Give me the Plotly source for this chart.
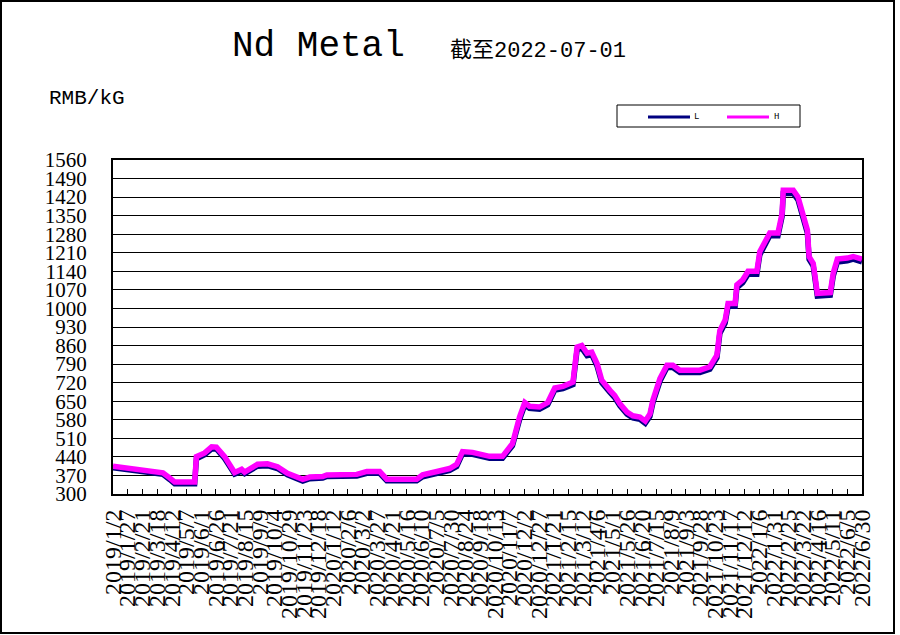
import datetime as dt
import plotly.graph_objects as go

# ---------------- data ----------------
DATES = [
    "2019-01-02", "2019-02-08", "2019-03-14", "2019-03-28", "2019-04-09", "2019-04-17", "2019-05-21", "2019-05-24", "2019-06-07", "2019-06-19",
    "2019-06-27", "2019-07-11", "2019-07-28", "2019-08-09", "2019-08-14", "2019-08-26", "2019-09-05", "2019-09-22", "2019-09-29", "2019-10-09",
    "2019-10-26", "2019-11-12", "2019-11-21", "2019-12-03", "2019-12-25", "2020-01-01", "2020-02-21", "2020-03-09", "2020-03-31", "2020-04-12",
    "2020-06-02", "2020-06-12", "2020-07-06", "2020-07-28", "2020-08-09", "2020-08-19", "2020-09-05", "2020-09-22", "2020-10-04", "2020-10-26",
    "2020-11-12", "2020-11-24", "2020-12-03", "2020-12-11", "2020-12-28", "2021-01-11", "2021-01-23", "2021-02-06", "2021-02-23", "2021-03-02",
    "2021-03-10", "2021-03-19", "2021-03-27", "2021-04-05", "2021-04-13", "2021-04-27", "2021-05-05", "2021-05-14", "2021-05-26", "2021-06-05",
    "2021-06-17", "2021-06-26", "2021-07-04", "2021-07-09", "2021-07-21", "2021-08-02", "2021-08-12", "2021-08-24", "2021-09-10", "2021-09-27",
    "2021-10-14", "2021-10-26", "2021-10-31", "2021-11-09", "2021-11-14", "2021-11-26", "2021-11-29", "2021-12-09", "2021-12-18", "2022-01-02",
    "2022-01-07", "2022-01-16", "2022-01-24", "2022-02-07", "2022-02-14", "2022-02-16", "2022-03-05", "2022-03-13", "2022-03-22", "2022-03-29",
    "2022-04-01", "2022-04-08", "2022-04-15", "2022-05-07", "2022-05-12", "2022-05-19", "2022-06-05", "2022-06-15", "2022-06-30",
]

H_VALUES = [
    405, 395, 385, 380, 360, 345, 345, 441, 455, 478,
    477, 441, 381, 393, 383, 397, 412, 414, 410, 403,
    378, 362, 355, 364, 366, 372, 374, 385, 385, 356,
    356, 372, 385, 396, 412, 460, 457, 447, 442, 442,
    490, 590, 645, 631, 628, 645, 700, 706, 722, 854,
    860, 831, 835, 792, 729, 691, 672, 640, 609, 595,
    590, 575, 602, 654, 735, 786, 786, 767, 765, 767,
    780, 824, 917, 956, 1019, 1019, 1089, 1108, 1140, 1140,
    1214, 1258, 1285, 1285, 1359, 1446, 1446, 1421, 1359, 1296,
    1195, 1170, 1057, 1060, 1133, 1186, 1190, 1196, 1186,
]

L_VALUES = [
    399, 389, 379, 374, 354, 339, 339, 433, 448, 470,
    470, 434, 375, 386, 377, 390, 405, 407, 403, 396,
    372, 356, 349, 358, 360, 366, 368, 378, 378, 350,
    350, 365, 378, 389, 404, 452, 450, 440, 435, 435,
    482, 580, 636, 623, 620, 637, 692, 698, 713, 844,
    850, 822, 826, 783, 720, 683, 664, 632, 601, 587,
    582, 567, 593, 644, 725, 777, 777, 758, 756, 758,
    771, 814, 905, 945, 1008, 1008, 1078, 1097, 1129, 1129,
    1202, 1246, 1274, 1274, 1347, 1434, 1434, 1410, 1348, 1285,
    1185, 1160, 1047, 1050, 1122, 1175, 1180, 1186, 1176,
]

X_TICK_LABELS = [
    "2019/1/2", "2019/1/27", "2019/2/21", "2019/3/18", "2019/4/12", "2019/5/7", "2019/6/1", "2019/6/26",
    "2019/7/21", "2019/8/15", "2019/9/9", "2019/10/4", "2019/10/29", "2019/11/23", "2019/12/18",
    "2020/1/12", "2020/2/6", "2020/3/2", "2020/3/27", "2020/4/21", "2020/5/16", "2020/6/10", "2020/7/5",
    "2020/7/30", "2020/8/24", "2020/9/18", "2020/10/13", "2020/11/7", "2020/12/2", "2020/12/27",
    "2021/1/21", "2021/2/15", "2021/3/12", "2021/4/6", "2021/5/1", "2021/5/26", "2021/6/20", "2021/7/15",
    "2021/8/9", "2021/9/3", "2021/9/28", "2021/10/23", "2021/11/17", "2021/12/12", "2022/1/6",
    "2022/1/31", "2022/2/25", "2022/3/22", "2022/4/16", "2022/5/11", "2022/6/5", "2022/6/30",
]
X_TICK_VALS = [dt.datetime.strptime(s, "%Y/%m/%d").strftime("%Y-%m-%d") for s in X_TICK_LABELS]

Y_TICKS = [300, 370, 440, 510, 580, 650, 720, 790, 860, 930, 1000, 1070, 1140, 1210, 1280, 1350, 1420, 1490, 1560]

TITLE = "Nd Metal"
SUBTITLE = "截至2022-07-01"
UNIT = "RMB/kG"

# ---------------- layout geometry ----------------
W, H = 900, 635
ML, MR, MT, MB = 113, 38, 160, 141
PW, PH = W - ML - MR, H - MT - MB


def px(x):
    return (x - ML) / PW


def py(y):
    return (H - MB - y) / PH


SERIF = "Liberation Serif, Times New Roman, serif"
MONO = "Liberation Mono, Noto Sans CJK SC, monospace"

fig = go.Figure()
fig.add_trace(go.Scatter(x=DATES, y=L_VALUES, mode="lines", name="L",
                         line=dict(color="#000080", width=5.5), showlegend=False,
                         hoverinfo="skip"))
fig.add_trace(go.Scatter(x=DATES, y=H_VALUES, mode="lines", name="H",
                         line=dict(color="#FF00FF", width=5.5), showlegend=False,
                         hoverinfo="skip"))

fig.update_layout(
    width=W, height=H,
    margin=dict(l=ML, r=MR, t=MT, b=MB, pad=0),
    paper_bgcolor="white", plot_bgcolor="white",
    hovermode=False,
    xaxis=dict(
        type="date",
        range=[X_TICK_VALS[0], X_TICK_VALS[-1]],
        tickmode="array", tickvals=X_TICK_VALS, ticktext=X_TICK_LABELS,
        tickangle=-90,
        ticks="inside", ticklen=5, tickwidth=1, tickcolor="black",
        showgrid=False, zeroline=False,
        showline=True, linecolor="black", linewidth=2, mirror=True,
        tickfont=dict(family=SERIF, size=24, color="black"),
        ticklabelstandoff=4,
    ),
    yaxis=dict(
        range=[300, 1560],
        tickmode="array", tickvals=Y_TICKS, ticktext=[str(v) for v in Y_TICKS],
        ticks="",
        showgrid=True, gridcolor="black", gridwidth=1,
        zeroline=False,
        showline=True, linecolor="black", linewidth=2, mirror=True,
        tickfont=dict(family=SERIF, size=21, color="black"),
        ticklabelstandoff=20,
    ),
    font=dict(family=SERIF, color="black"),
)

annotations = [
    dict(text=TITLE, x=px(318), y=py(46), xanchor="center", yanchor="middle",
         font=dict(family=MONO, size=36, color="black")),
    dict(text=SUBTITLE, x=px(448), y=py(51), xanchor="left", yanchor="middle",
         font=dict(family=MONO, size=22, color="black")),
    dict(text=UNIT, x=px(47), y=py(99), xanchor="left", yanchor="middle",
         font=dict(family=MONO, size=21, color="black")),
    dict(text="L", x=px(692), y=py(117), xanchor="left", yanchor="middle",
         font=dict(family=MONO, size=9, color="black")),
    dict(text="H", x=px(772), y=py(117), xanchor="left", yanchor="middle",
         font=dict(family=MONO, size=9, color="black")),
]
for a in annotations:
    a.update(xref="paper", yref="paper", showarrow=False)
fig.update_layout(annotations=annotations)

shapes = [
    # outer chart border
    dict(type="rect", x0=px(1), x1=px(894), y0=py(1), y1=py(633),
         line=dict(color="black", width=2), fillcolor="rgba(0,0,0,0)"),
    # legend box
    dict(type="rect", x0=px(617), x1=px(800), y0=py(105), y1=py(127),
         line=dict(color="black", width=1), fillcolor="white"),
    dict(type="line", x0=px(648), x1=px(690), y0=py(117), y1=py(117),
         line=dict(color="#000080", width=3)),
    dict(type="line", x0=px(727), x1=px(769), y0=py(117), y1=py(117),
         line=dict(color="#FF00FF", width=3)),
]
for s in shapes:
    s.update(xref="paper", yref="paper", layer="above")
fig.update_layout(shapes=shapes)

fig.write_html(
    "out.html",
    config={"displayModeBar": False, "staticPlot": True},
    post_script="document.body.style.margin='0px';document.body.style.overflow='hidden';",
)
